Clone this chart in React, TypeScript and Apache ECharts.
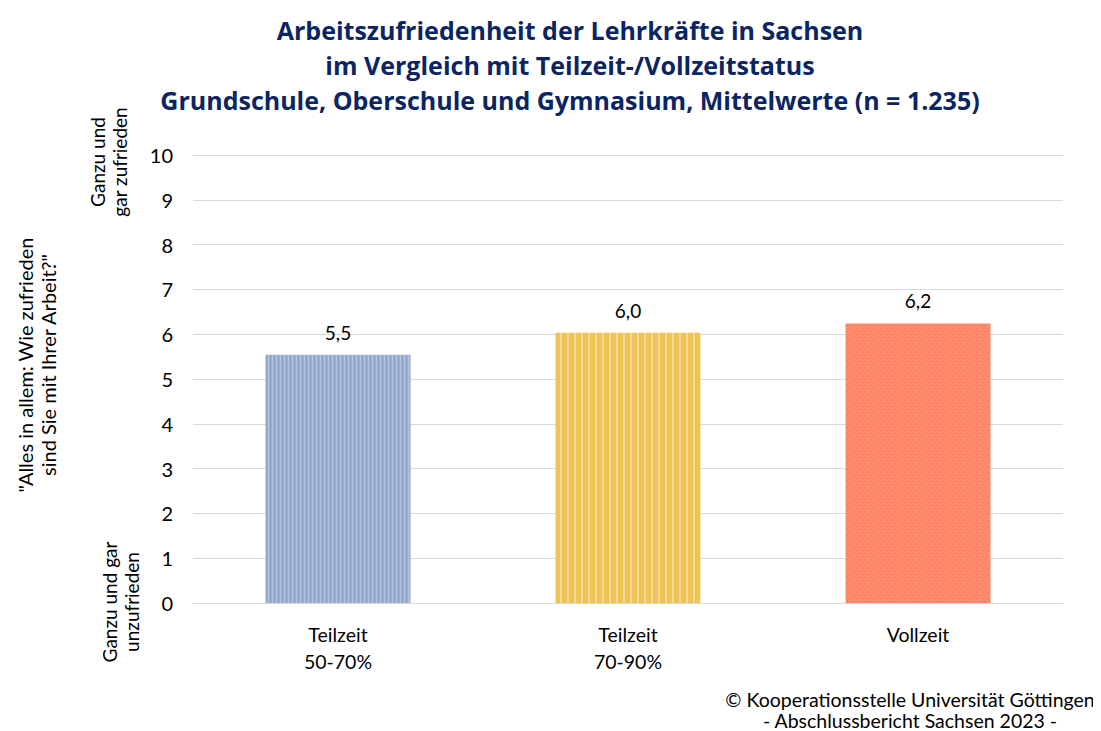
import React, { useEffect, useRef } from "react";
import * as echarts from "echarts";

const categories = ["Teilzeit\n50-70%", "Teilzeit\n70-90%", "Vollzeit"];
const values = [5.54, 6.03, 6.24];
const titleLines = [
  "Arbeitszufriedenheit der Lehrkräfte in Sachsen",
  "im Vergleich mit Teilzeit-/Vollzeitstatus",
  "Grundschule, Oberschule und Gymnasium, Mittelwerte (n = 1.235)",
];
const footer = "© Kooperationsstelle Universität Göttingen\n- Abschlussbericht Sachsen 2023 -";

const FONT = "Lato, 'Open Sans', sans-serif";
const TFONT = "'Open Sans', sans-serif";

function makePattern(kind: number): HTMLCanvasElement {
  const c = document.createElement("canvas");
  const ctx = c.getContext("2d")!;
  if (kind === 0) {
    c.width = 4; c.height = 4;
    ctx.fillStyle = "#9DB0D2"; ctx.fillRect(0, 0, 4, 4);
    ctx.fillStyle = "#B4C4E0"; ctx.fillRect(0, 0, 1, 4);
    ctx.fillStyle = "#8FA3C6"; ctx.fillRect(2, 0, 1, 4);
  } else if (kind === 1) {
    c.width = 7; c.height = 4;
    ctx.fillStyle = "#F0C453"; ctx.fillRect(0, 0, 7, 4);
    ctx.fillStyle = "#F6D79A"; ctx.fillRect(0, 0, 2, 4);
  } else {
    c.width = 6; c.height = 6;
    ctx.fillStyle = "#FF8A6E"; ctx.fillRect(0, 0, 6, 6);
    ctx.fillStyle = "#EE6E4E"; ctx.fillRect(1, 1, 1, 1); ctx.fillRect(4, 4, 1, 1);
  }
  return c;
}

export default function App() {
  const ref = useRef<HTMLDivElement>(null);
  useEffect(() => {
    const chart = echarts.init(ref.current!, null, { renderer: "svg" });
    chart.setOption({
      animation: false,
      backgroundColor: "#ffffff",
      grid: { left: 193, right: 38, top: 155, bottom: 128 },
      graphic: [
        ...titleLines.map((t, i) => ({
          type: "text",
          x: 570,
          y: 30 + i * 35,
          style: { text: t, font: `bold 25px ${TFONT}`, fill: "#0B2562", textAlign: "center", textVerticalAlign: "middle" },
        })),
        {
          type: "text", x: 36, y: 365, rotation: Math.PI / 2,
          style: { text: '"Alles in allem: Wie zufrieden\nsind Sie mit Ihrer Arbeit?"', font: `20px ${FONT}`, fill: "#000", textAlign: "center", textVerticalAlign: "middle", lineHeight: 23 },
        },
        {
          type: "text", x: 108, y: 162, rotation: Math.PI / 2,
          style: { text: "Ganzu und\ngar zufrieden", font: `19px ${FONT}`, fill: "#000", textAlign: "center", textVerticalAlign: "middle", lineHeight: 22 },
        },
        {
          type: "text", x: 120, y: 602, rotation: Math.PI / 2,
          style: { text: "Ganzu und gar\nunzufrieden", font: `19px ${FONT}`, fill: "#000", textAlign: "center", textVerticalAlign: "middle", lineHeight: 22 },
        },
        {
          type: "text", x: 910, y: 710,
          style: { text: footer, font: `19.5px ${FONT}`, fill: "#000", textAlign: "center", textVerticalAlign: "middle", lineHeight: 21 },
        },
      ],
      xAxis: {
        type: "category",
        data: categories,
        axisLine: { show: true, lineStyle: { color: "#D9D9D9", width: 1 } },
        axisTick: { show: false },
        axisLabel: { color: "#000", fontSize: 19.5, fontFamily: FONT, margin: 18, lineHeight: 27 },
      },
      yAxis: {
        type: "value",
        min: 0, max: 10, interval: 1,
        axisLine: { show: false },
        axisTick: { show: false },
        axisLabel: { color: "#000", fontSize: 20, fontFamily: FONT, margin: 20 },
        splitLine: { lineStyle: { color: "#D9D9D9", width: 1 } },
      },
      series: [
        {
          type: "bar",
          barWidth: "50%",
          data: values.map((v, i) => ({
            value: v,
            itemStyle: { color: { image: makePattern(i), repeat: "repeat" } as any },
          })),
          label: {
            show: true,
            position: "top",
            distance: 13,
            color: "#000",
            fontSize: 19,
            fontFamily: FONT,
            formatter: (p: any) => p.value.toFixed(1).replace(".", ","),
          },
        },
      ],
    });
    return () => chart.dispose();
  }, []);
  return <div ref={ref} style={{ width: 1101, height: 731, marginLeft: -8, marginTop: -8 }} />;
}
